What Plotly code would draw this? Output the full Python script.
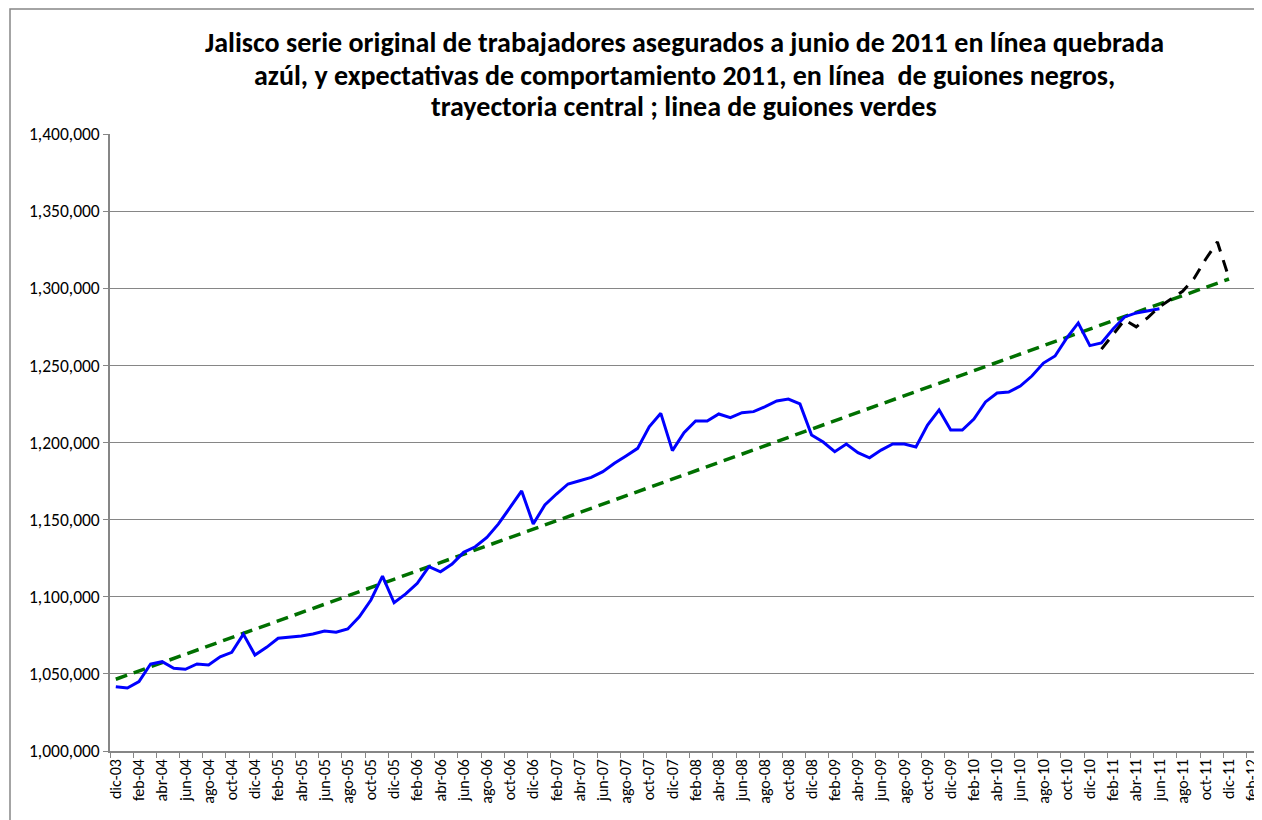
import plotly.graph_objects as go

# ---------------- data ----------------
months = ["ene", "feb", "mar", "abr", "may", "jun", "jul", "ago", "sep", "oct", "nov", "dic"]
categories = ["dic-03"] + [f"{m}-{y:02d}" for y in range(4, 12) for m in months] + ["ene-12", "feb-12"]

# Asegurados (serie original) dic-03 .. jun-11
asegurados = [
    1041700, 1040800, 1045000, 1056400, 1057900, 1053600, 1053000, 1056400, 1055800, 1061100,
    1064000, 1075800, 1062200, 1067200, 1073100, 1073700, 1074600, 1075900, 1077800, 1077000,
    1079100, 1087000, 1097900, 1113400, 1096100, 1101800, 1108700, 1119500, 1116200, 1121200,
    1128800, 1132400, 1138500, 1147200, 1158000, 1168600, 1147200, 1159500, 1166600, 1173100,
    1175200, 1177400, 1181100, 1186500, 1191300, 1196200, 1210200, 1218900, 1194700, 1206400,
    1213900, 1213900, 1218500, 1216100, 1219300, 1220000, 1223200, 1226900, 1228200, 1225000,
    1204900, 1200300, 1194000, 1199000, 1193400, 1190100, 1195100, 1199000, 1199000, 1197100,
    1211300, 1221100, 1208100, 1208100, 1215200, 1226300, 1232100, 1232700, 1236600, 1243100,
    1251500, 1256100, 1267700, 1277500, 1262800, 1264500, 1273600, 1281400, 1284000, 1285300,
    1286700,
]

# Expectativas 2011 (ene-11 .. dic-11)
expectativas_cats = ["ene-11", "feb-11", "mar-11", "abr-11", "may-11", "jun-11",
                     "jul-11", "ago-11", "sep-11", "oct-11", "nov-11", "dic-11"]
expectativas = [1260500, 1270000, 1279500, 1275000, 1281000, 1288000,
                1293000, 1298000, 1306500, 1319000, 1330000, 1306500]

# Trayectoria central (extremos)
trayectoria_cats = ["dic-03", "dic-11"]
trayectoria = [1046500, 1306000]

y_ticks = [1000000, 1050000, 1100000, 1150000, 1200000, 1250000, 1300000, 1350000, 1400000]

title_lines = [
    "Jalisco serie original de trabajadores asegurados a junio de 2011 en línea quebrada",
    "azúl, y expectativas de comportamiento 2011, en línea  de guiones negros,",
    "trayectoria central ; linea de guiones verdes",
]

# ---------------- figure ----------------
idx = {c: i for i, c in enumerate(categories)}
FONT = "Calibri, Carlito, 'Liberation Sans Narrow', 'DejaVu Sans Condensed', Arial, sans-serif"

fig = go.Figure()
fig.add_trace(go.Scatter(
    x=[idx[c] for c in trayectoria_cats], y=trayectoria, mode="lines",
    line=dict(color="#007000", width=3.5, dash="12px,7px"), hoverinfo="skip",
    name="trayectoria central"))
fig.add_trace(go.Scatter(
    x=list(range(len(asegurados))), y=asegurados, mode="lines",
    line=dict(color="#0000FF", width=3), name="serie original"))
fig.add_trace(go.Scatter(
    x=[idx[c] for c in expectativas_cats], y=expectativas, mode="lines",
    line=dict(color="#000000", width=3, dash="12px,9px"), name="expectativas 2011"))

tickvals = list(range(0, len(categories), 2))
ticktext = [categories[i] for i in tickvals]

fig.update_xaxes(
    range=[-0.5, len(categories) - 0.5], automargin=False,
    tickmode="array", tickvals=tickvals, ticktext=ticktext,
    tickangle=-90, ticks="", showgrid=False, zeroline=False,
    showline=True, linecolor="#868686", linewidth=1.5,
    tickfont=dict(family=FONT, size=16, color="#000000"),
    minor=dict(tickmode="array", tickvals=[v - 0.5 for v in tickvals] + [len(categories) - 0.5],
               ticks="outside", ticklen=5, tickcolor="#868686", tickwidth=1, showgrid=False),
)
fig.update_yaxes(
    range=[1000000, 1400000], tickmode="array", tickvals=y_ticks, automargin=False,
    tickformat=",d", ticks="outside", ticklen=5, tickcolor="#868686",
    showgrid=True, gridcolor="#868686", gridwidth=1, zeroline=False,
    showline=True, linecolor="#868686", linewidth=1.5,
    tickfont=dict(family=FONT, size=17.5, color="#000000"),
)

# Title as three centered lines (page y positions of the reference)
for k, (line, py) in enumerate(zip(title_lines, [42, 75, 107])):
    fig.add_annotation(
        text=f"<b>{line}</b>", xref="paper", yref="paper",
        x=0.5, y=(751 - py) / 617, xanchor="center", yanchor="middle",
        showarrow=False, font=dict(family=FONT, size=28, color="#000000"))

# Outer chart border
fig.add_shape(type="rect", xref="paper", yref="paper",
              x0=(10 - 110) / 1148, x1=(1259 - 110) / 1148,
              y0=-0.3, y1=(751 - 9) / 617,
              line=dict(color="#868686", width=1.5), fillcolor="rgba(0,0,0,0)", layer="below")

# the page body has an 8px margin: size/margins compensate so the plot area
# lands on x 110..1258, y 134..751 of the window
fig.update_layout(
    width=1254, height=812,
    margin=dict(l=102, r=4, t=126, b=69),
    paper_bgcolor="white", plot_bgcolor="white",
    showlegend=False,
)

fig.write_html("out.html")
